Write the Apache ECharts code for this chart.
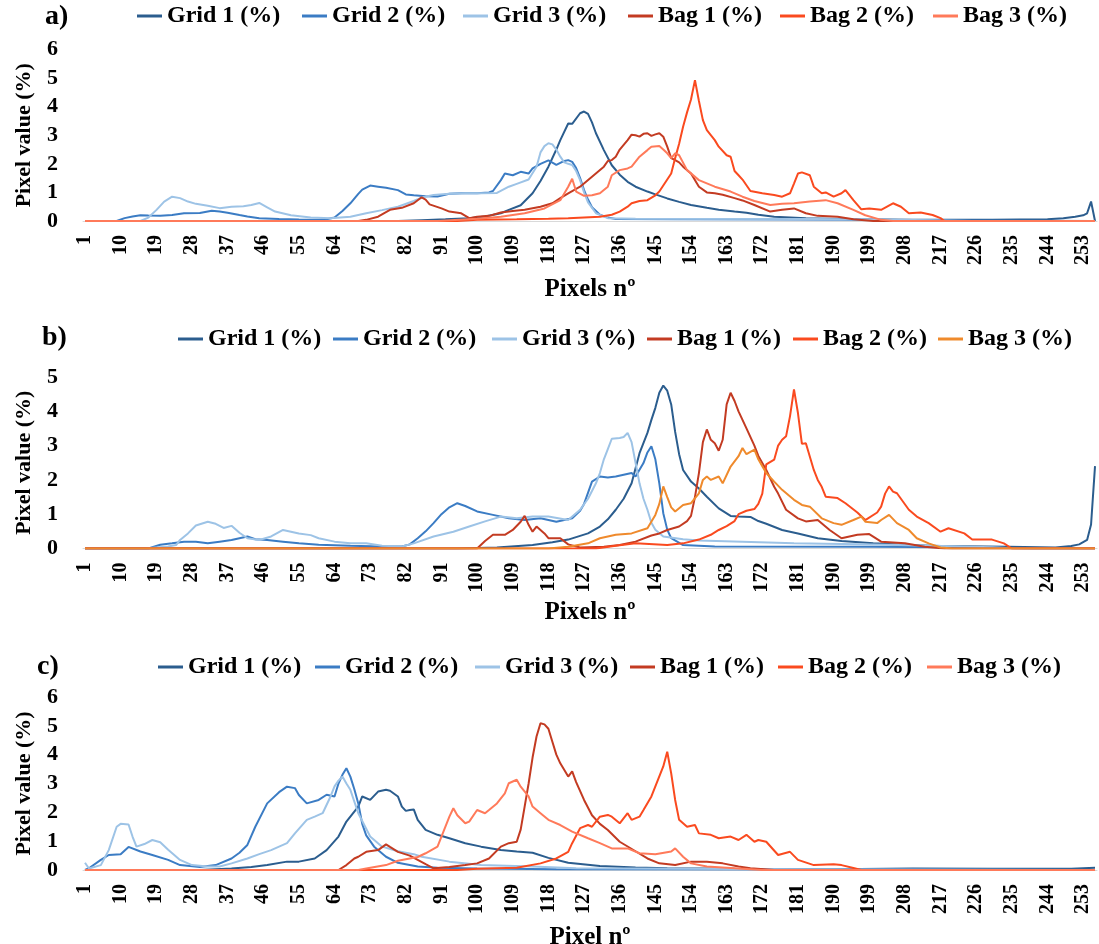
<!DOCTYPE html>
<html>
<head>
<meta charset="utf-8">
<script src="https://cdn.jsdelivr.net/npm/echarts@6/dist/echarts.min.js"></script>
<style>html,body{margin:0;padding:0;background:#fff;}#main{width:1099px;height:944px;}</style>
</head>
<body>
<div id="main"></div>
<script>
// ---------- DATA (pixel number, pixel value %) ----------
const seriesNames = ['Grid 1 (%)', 'Grid 2 (%)', 'Grid 3 (%)', 'Bag 1 (%)', 'Bag 2 (%)', 'Bag 3 (%)'];
const yTicksA = [0, 1, 2, 3, 4, 5, 6];
const yTicksB = [0, 1, 2, 3, 4, 5];
const yTicksC = [0, 1, 2, 3, 4, 5, 6];

// panel a
const aGrid1 = [[1,0],[80,0],[86,0.03],[92,0.06],[98,0.1],[102,0.16],[106,0.27],[108,0.39],[111,0.55],[114,0.97],[116,1.4],[118,1.9],[120,2.5],[121,2.83],[123,3.41],[124,3.4],[126,3.77],[127,3.83],[128,3.75],[129,3.45],[130,3.07],[132,2.48],[134,1.95],[136,1.62],[138,1.37],[140,1.2],[143,1.03],[145,0.93],[148,0.79],[151,0.67],[154,0.56],[158,0.46],[161,0.39],[165,0.33],[168,0.29],[171,0.22],[175,0.15],[183,0.1],[195,0.06],[210,0.04],[230,0.04],[244,0.06],[248,0.1],[251,0.15],[253,0.2],[254,0.27],[255,0.68],[256,0]];
const aGrid2 = [[1,0],[9,0],[11,0.1],[13,0.16],[15,0.2],[17,0.19],[20,0.18],[23,0.21],[26,0.27],[30,0.28],[33,0.36],[35,0.33],[37,0.29],[40,0.21],[42,0.16],[45,0.1],[50,0.07],[55,0.05],[60,0.04],[62,0.06],[64,0.12],[66,0.35],[68,0.62],[70,0.95],[71,1.1],[73,1.24],[75,1.2],[77,1.16],[80,1.08],[82,0.93],[84,0.9],[87,0.87],[90,0.86],[93,0.95],[96,0.97],[100,0.97],[103,1.0],[104,1.05],[106,1.43],[107,1.66],[109,1.6],[111,1.72],[113,1.66],[114,1.84],[116,2.0],[118,2.12],[120,1.96],[122,2.1],[123,2.13],[124,2.07],[125,1.85],[126,1.5],[127,1.08],[128,0.75],[129,0.48],[131,0.22],[133,0.12],[135,0.07],[150,0.06],[180,0.05],[200,0.04],[220,0.02],[256,0]];
const aGrid3 = [[1,0],[15,0],[17,0.12],[19,0.38],[21,0.68],[23,0.85],[25,0.8],[27,0.68],[29,0.6],[32,0.53],[35,0.45],[38,0.5],[41,0.52],[43,0.56],[45,0.63],[47,0.48],[49,0.33],[53,0.2],[58,0.12],[63,0.1],[68,0.15],[72,0.27],[76,0.38],[80,0.5],[84,0.7],[86,0.82],[89,0.91],[93,0.95],[97,0.97],[101,0.97],[105,0.98],[108,1.2],[110,1.3],[113,1.45],[115,1.9],[116,2.4],[117,2.62],[118,2.72],[119,2.68],[120,2.5],[121,2.25],[122,2.05],[123,2.0],[124,1.96],[125,1.75],[126,1.43],[127,1.0],[128,0.65],[130,0.27],[133,0.1],[140,0.08],[185,0.07],[200,0.05],[215,0.03],[225,0],[256,0]];
const aBag1 = [[1,0],[70,0],[72,0.04],[75,0.15],[78,0.39],[81,0.46],[84,0.62],[86,0.83],[87,0.75],[88,0.58],[91,0.44],[93,0.33],[96,0.27],[98,0.1],[100,0.15],[103,0.18],[106,0.3],[109,0.35],[112,0.39],[116,0.5],[119,0.62],[121,0.8],[123,0.97],[126,1.2],[129,1.55],[132,1.9],[133,2.1],[134,2.13],[135,2.25],[136,2.5],[138,2.83],[139,3.02],[140,3.0],[141,2.95],[142,3.05],[143,3.07],[144,2.98],[145,3.03],[146,3.07],[147,2.95],[148,2.6],[149,2.2],[150,2.13],[151,2.05],[152,1.9],[154,1.66],[156,1.2],[158,1.0],[160,0.97],[162,0.92],[165,0.8],[167,0.72],[170,0.56],[174,0.33],[177,0.39],[180,0.44],[183,0.27],[186,0.18],[191,0.15],[195,0.06],[200,0],[256,0]];
const aBag2 = [[1,0],[95,0],[100,0.04],[110,0.06],[118,0.08],[123,0.1],[131,0.15],[134,0.22],[136,0.33],[138,0.5],[139,0.62],[141,0.7],[143,0.73],[145,0.9],[146,1.03],[148,1.45],[149,1.66],[150,2.2],[151,2.7],[152,3.3],[153,3.8],[154,4.25],[155,4.93],[156,4.2],[157,3.53],[158,3.18],[160,2.83],[161,2.6],[163,2.3],[164,2.25],[165,1.75],[166,1.6],[167,1.45],[168,1.25],[169,1.05],[172,0.97],[175,0.91],[177,0.85],[179,0.97],[180,1.31],[181,1.66],[182,1.7],[184,1.6],[185,1.2],[187,0.97],[188,1.0],[190,0.85],[192,0.97],[193,1.08],[195,0.73],[197,0.41],[199,0.44],[202,0.39],[205,0.62],[207,0.5],[209,0.27],[212,0.3],[215,0.21],[217,0.1],[218,0],[256,0]];
const aBag3 = [[1,0],[90,0],[100,0.08],[106,0.15],[112,0.27],[117,0.44],[121,0.73],[123,1.2],[124,1.48],[125,1.03],[127,0.88],[129,0.9],[131,0.97],[133,1.2],[134,1.6],[136,1.78],[138,1.84],[139,1.9],[141,2.25],[143,2.48],[144,2.6],[146,2.62],[147,2.5],[148,2.37],[149,2.2],[150,2.37],[151,2.3],[153,1.78],[156,1.43],[160,1.2],[164,1.03],[167,0.85],[170,0.7],[174,0.56],[177,0.6],[180,0.62],[184,0.68],[188,0.73],[191,0.62],[195,0.39],[198,0.2],[202,0.04],[205,0],[256,0]];

// panel b
const bGrid1 = [[1,0],[95,0],[105,0.03],[114,0.1],[119,0.18],[123,0.26],[128,0.44],[131,0.64],[133,0.85],[135,1.13],[137,1.45],[139,1.9],[141,2.78],[143,3.37],[144,3.75],[145,4.1],[146,4.54],[147,4.75],[148,4.6],[149,4.2],[150,3.4],[151,2.75],[152,2.29],[154,1.95],[156,1.75],[158,1.51],[161,1.17],[164,0.95],[166,0.93],[169,0.92],[171,0.8],[173,0.72],[177,0.54],[181,0.44],[186,0.3],[192,0.22],[200,0.15],[209,0.1],[217,0.07],[234,0.05],[246,0.03],[250,0.07],[252,0.12],[254,0.25],[255,0.7],[256,2.4]];
const bGrid2 = [[1,0],[17,0],[20,0.11],[23,0.15],[26,0.2],[29,0.2],[32,0.15],[35,0.2],[38,0.25],[42,0.35],[44,0.27],[47,0.25],[51,0.2],[55,0.15],[60,0.11],[68,0.08],[76,0.06],[81,0.06],[83,0.12],[85,0.3],[87,0.5],[89,0.74],[91,1.0],[93,1.2],[95,1.32],[97,1.24],[100,1.08],[104,0.98],[108,0.88],[112,0.83],[116,0.88],[120,0.78],[124,0.88],[126,1.1],[127,1.3],[129,1.95],[131,2.1],[133,2.07],[135,2.1],[137,2.15],[139,2.2],[140,2.1],[142,2.49],[143,2.8],[144,2.98],[145,2.6],[146,1.9],[147,1.03],[148,0.55],[149,0.3],[152,0.1],[160,0.06],[200,0.05],[230,0.03],[240,0],[256,0]];
const bGrid3 = [[1,0],[16,0],[22,0.06],[24,0.1],[25,0.25],[27,0.44],[29,0.67],[32,0.78],[34,0.72],[36,0.6],[38,0.66],[40,0.46],[42,0.3],[45,0.25],[48,0.35],[51,0.54],[53,0.49],[55,0.44],[58,0.39],[60,0.3],[64,0.2],[68,0.15],[72,0.15],[76,0.08],[81,0.06],[84,0.15],[89,0.35],[94,0.49],[98,0.64],[102,0.79],[106,0.93],[110,0.88],[114,0.93],[118,0.93],[123,0.83],[126,1.13],[128,1.45],[130,1.9],[131,2.2],[132,2.6],[133,2.9],[134,3.2],[136,3.22],[137,3.25],[138,3.37],[139,3.1],[140,2.5],[141,1.9],[142,1.45],[143,1.13],[144,0.75],[145,0.55],[147,0.35],[152,0.27],[156,0.23],[180,0.15],[200,0.12],[215,0.08],[230,0.04],[236,0],[256,0]];
const bBag1 = [[1,0],[100,0],[102,0.22],[104,0.4],[107,0.4],[109,0.54],[111,0.78],[112,0.95],[113,0.69],[114,0.49],[115,0.64],[117,0.44],[118,0.3],[121,0.3],[123,0.12],[126,0.03],[132,0.05],[136,0.1],[140,0.2],[144,0.38],[146,0.44],[148,0.54],[151,0.64],[153,0.8],[154,0.95],[155,1.5],[156,2.2],[157,3.1],[158,3.47],[159,3.17],[160,3.07],[161,2.85],[162,3.17],[163,4.2],[164,4.54],[165,4.3],[166,4.0],[168,3.5],[170,3.0],[171,2.7],[173,2.29],[175,1.8],[176,1.6],[178,1.13],[181,0.88],[183,0.79],[186,0.83],[189,0.54],[192,0.3],[196,0.4],[199,0.42],[202,0.2],[208,0.15],[213,0.05],[218,0],[256,0]];
const bBag2 = [[1,0],[130,0],[135,0.08],[140,0.15],[148,0.1],[152,0.15],[156,0.26],[159,0.4],[161,0.54],[163,0.65],[165,0.8],[166,1.0],[168,1.1],[170,1.15],[171,1.3],[172,1.6],[173,2.45],[175,2.59],[176,3.0],[177,3.17],[178,3.27],[179,3.86],[180,4.64],[181,3.95],[182,3.05],[183,3.07],[185,2.29],[186,2.0],[187,1.8],[188,1.51],[191,1.47],[193,1.32],[196,1.05],[198,0.83],[201,1.05],[202,1.22],[203,1.6],[204,1.81],[205,1.66],[206,1.61],[209,1.13],[211,0.93],[214,0.74],[217,0.49],[219,0.59],[223,0.44],[225,0.26],[230,0.26],[233,0.15],[235,0],[256,0]];
const bBag3 = [[1,0],[118,0],[123,0.05],[128,0.15],[131,0.3],[135,0.4],[139,0.44],[143,0.59],[145,0.98],[146,1.3],[147,1.81],[148,1.5],[149,1.2],[150,1.08],[152,1.27],[154,1.32],[156,1.61],[157,2.0],[158,2.1],[159,2.0],[161,2.1],[162,1.9],[164,2.39],[166,2.69],[167,2.93],[168,2.75],[170,2.88],[171,2.6],[172,2.4],[173,2.2],[175,1.95],[177,1.71],[180,1.42],[182,1.27],[184,1.22],[187,0.88],[190,0.74],[192,0.69],[195,0.83],[197,0.93],[198,0.78],[201,0.74],[202,0.83],[204,0.98],[206,0.74],[209,0.54],[211,0.3],[214,0.15],[217,0.03],[220,0],[256,0]];

// panel c
const cGrid1 = [[1,0],[30,0],[38,0.05],[43,0.1],[47,0.17],[52,0.29],[55,0.29],[59,0.4],[62,0.69],[65,1.16],[67,1.68],[70,2.2],[71,2.55],[73,2.43],[75,2.72],[77,2.78],[78,2.75],[80,2.55],[81,2.2],[82,2.05],[83,2.08],[84,2.1],[85,1.74],[87,1.39],[90,1.22],[93,1.1],[97,0.93],[101,0.81],[106,0.69],[110,0.64],[114,0.6],[118,0.42],[123,0.25],[131,0.14],[140,0.09],[148,0.06],[165,0.04],[190,0.03],[210,0.05],[230,0.04],[250,0.04],[256,0.08]];
const cGrid2 = [[1,0],[2,0.06],[5,0.35],[7,0.52],[10,0.55],[12,0.8],[15,0.64],[18,0.52],[22,0.35],[25,0.17],[30,0.1],[34,0.17],[38,0.4],[40,0.6],[42,0.87],[44,1.5],[47,2.31],[50,2.7],[52,2.89],[54,2.84],[55,2.6],[57,2.31],[60,2.43],[62,2.61],[64,2.55],[65,3.0],[66,3.3],[67,3.53],[68,3.24],[69,2.8],[70,2.31],[71,1.6],[72,1.2],[74,0.81],[77,0.46],[80,0.25],[85,0.12],[90,0.08],[100,0.05],[120,0.03],[200,0.02],[256,0]];
const cGrid3 = [[1,0.25],[2,0.05],[5,0.17],[7,0.69],[9,1.5],[10,1.6],[12,1.58],[13,1.16],[14,0.81],[16,0.9],[18,1.04],[20,0.96],[22,0.7],[25,0.35],[28,0.17],[32,0.12],[35,0.12],[38,0.23],[42,0.4],[45,0.55],[48,0.69],[52,0.93],[54,1.27],[57,1.74],[59,1.85],[61,1.97],[63,2.55],[64,2.9],[65,3.1],[66,3.24],[67,3.0],[68,2.78],[70,1.97],[73,1.16],[76,0.81],[80,0.65],[84,0.55],[86,0.46],[93,0.29],[101,0.17],[114,0.12],[125,0.06],[150,0.04],[200,0.02],[256,0]];
const cBag1 = [[1,0],[65,0],[67,0.17],[69,0.4],[70,0.46],[72,0.63],[75,0.69],[77,0.89],[78,0.8],[80,0.63],[83,0.5],[85,0.35],[87,0.2],[89,0.06],[93,0.1],[97,0.17],[100,0.23],[103,0.4],[106,0.81],[108,0.93],[110,0.98],[111,1.4],[112,2.2],[113,3.0],[114,3.9],[115,4.63],[116,5.09],[117,5.05],[118,4.9],[119,4.45],[120,4.0],[121,3.7],[123,3.24],[124,3.42],[125,3.05],[127,2.43],[129,1.9],[131,1.6],[133,1.39],[136,0.98],[140,0.65],[143,0.4],[146,0.23],[150,0.17],[154,0.29],[158,0.29],[162,0.23],[166,0.12],[169,0.06],[175,0],[256,0]];
const cBag2 = [[1,0],[95,0],[100,0.04],[110,0.08],[116,0.23],[120,0.4],[123,0.63],[124,0.93],[126,1.45],[128,1.56],[129,1.5],[131,1.85],[133,1.91],[134,1.85],[136,1.62],[138,1.97],[139,1.74],[141,1.85],[142,2.08],[144,2.55],[145,2.9],[147,3.59],[148,4.1],[149,3.35],[150,2.43],[151,1.74],[153,1.5],[155,1.56],[156,1.27],[159,1.22],[161,1.1],[164,1.16],[166,1.04],[168,1.22],[170,0.98],[171,1.04],[173,0.98],[176,0.52],[179,0.63],[181,0.35],[185,0.17],[190,0.2],[192,0.17],[195,0.07],[197,0],[256,0]];
const cBag3 = [[1,0],[70,0],[72,0.05],[77,0.17],[80,0.32],[85,0.45],[87,0.58],[90,0.81],[91,1.16],[93,1.85],[94,2.14],[95,1.9],[97,1.62],[98,1.68],[100,2.08],[102,1.97],[103,2.08],[105,2.31],[107,2.66],[108,3.01],[110,3.13],[111,2.89],[113,2.55],[114,2.2],[116,1.97],[118,1.74],[121,1.56],[124,1.33],[128,1.1],[131,0.93],[134,0.75],[138,0.75],[141,0.58],[145,0.55],[149,0.64],[150,0.75],[152,0.46],[154,0.23],[158,0.12],[165,0.06],[172,0],[256,0]];

// x categories: pixel numbers 1..256
const pixelCount = 256;
const pixelNumbers = [];
for (let i = 1; i <= pixelCount; i++) pixelNumbers.push(String(i));

// ---------- LAYOUT / STYLE ----------
const FONT = '"Liberation Serif", "Times New Roman", serif';
const colorsABC = ['#2b5d8e', '#3b7cc4', '#9dc3e6', '#c33b22', '#fa4a1f', '#ff7a5a'];
const colorsB = ['#2b5d8e', '#3b7cc4', '#9dc3e6', '#c33b22', '#fa4a1f', '#ef8a2c'];

const panels = [
  {letter:'a)', letterLeft:45, letterTop:3, top:49.5, height:171.5, ticks:yTicksA, xName:'Pixels nº', nameGap:56,
   legendLeft:[137,302,463,628,780,933], legendTop:4, colors:colorsABC,
   data:[aGrid1,aGrid2,aGrid3,aBag1,aBag2,aBag3]},
  {letter:'b)', letterLeft:42, letterTop:324, top:377, height:171.5, ticks:yTicksB, xName:'Pixels nº', nameGap:52,
   legendLeft:[178,333,492,647,793,938], legendTop:327, colors:colorsB,
   data:[bGrid1,bGrid2,bGrid3,bBag1,bBag2,bBag3]},
  {letter:'c)', letterLeft:37, letterTop:653, top:697, height:173, ticks:yTicksC, xName:'Pixel nº', nameGap:55,
   legendLeft:[158,315,475,630,778,927], legendTop:655, colors:colorsABC,
   data:[cGrid1,cGrid2,cGrid3,cBag1,cBag2,cBag3]}
];

const grids = [], xAxes = [], yAxes = [], series = [], legends = [], graphics = [];
panels.forEach((p, gi) => {
  grids.push({left:83, right:2, top:p.top, height:p.height, containLabel:false, outerBoundsMode:'none'});
  xAxes.push({
    type:'category', gridIndex:gi, data:pixelNumbers, boundaryGap:true,
    name:p.xName, nameLocation:'middle', nameGap:p.nameGap,
    nameTextStyle:{fontFamily:FONT, fontWeight:'bold', fontSize:25, color:'#000'},
    axisLine:{show:true, lineStyle:{color:'#d9d9d9', width:1}},
    axisTick:{show:false},
    axisLabel:{interval:8, rotate:90, margin:14, fontFamily:FONT, fontWeight:'bold', fontSize:20, color:'#000'},
    splitLine:{show:false}
  });
  const ymax = p.ticks[p.ticks.length - 1];
  yAxes.push({
    type:'value', gridIndex:gi, min:p.ticks[0], max:ymax, interval:1,
    name:'Pixel value (%)', nameLocation:'middle', nameRotate:90, nameGap:48,
    nameTextStyle:{fontFamily:FONT, fontWeight:'bold', fontSize:22, color:'#000'},
    axisLine:{show:false}, axisTick:{show:false}, splitLine:{show:false},
    axisLabel:{margin:25, fontFamily:FONT, fontWeight:'bold', fontSize:22, color:'#000'}
  });
  seriesNames.forEach((name, k) => {
    const col = p.colors[k];
    series.push({
      type:'line', name:name, xAxisIndex:gi, yAxisIndex:gi,
      data:p.data[k].map(pt => [pt[0] - 1, pt[1]]),
      symbol:'none', showSymbol:false, smooth:false,
      lineStyle:{color:col, width:2}, itemStyle:{color:col},
      animation:false, z:2 + k
    });
    legends.push({
      left:p.legendLeft[k], top:p.legendTop, padding:0, orient:'horizontal',
      itemWidth:25, itemHeight:3, itemGap:0, selectedMode:false, icon:'rect',
      data:[{name:name, icon:'rect', itemStyle:{color:col, borderWidth:0}}],
      textStyle:{fontFamily:FONT, fontWeight:'bold', fontSize:24, color:'#000'}
    });
  });
  graphics.push({type:'text', left:p.letterLeft, top:p.letterTop,
    style:{text:p.letter, font:'bold 28px ' + FONT, fill:'#000'}});
});

const chart = echarts.init(document.getElementById('main'), null, {renderer:'canvas', width:1099, height:944});
chart.setOption({
  backgroundColor:'#ffffff',
  animation:false,
  grid:grids, xAxis:xAxes, yAxis:yAxes, series:series, legend:legends, graphic:graphics
});
</script>
</body>
</html>
